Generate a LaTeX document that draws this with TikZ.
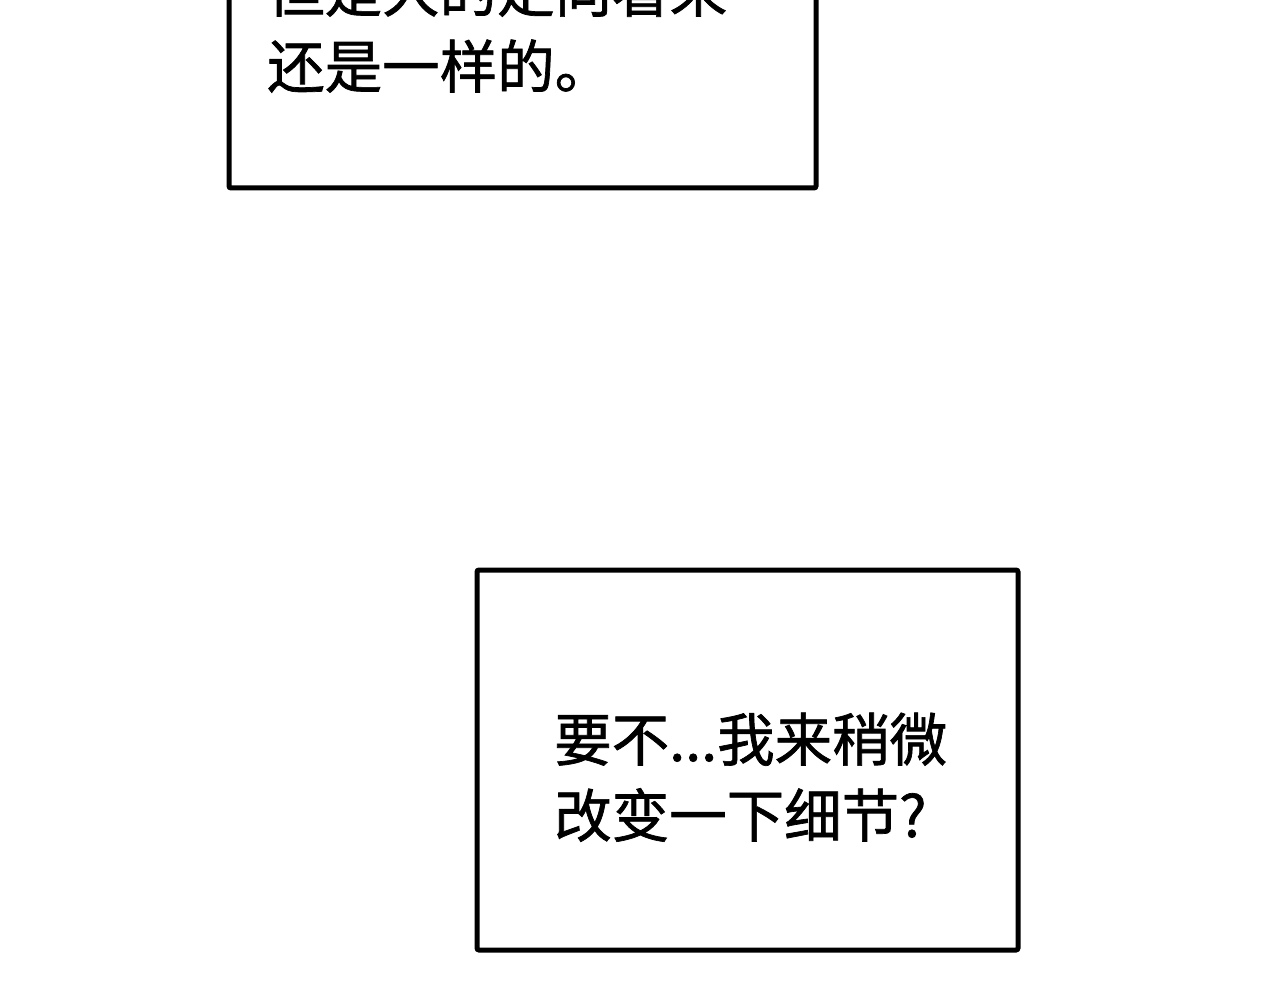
\documentclass[tikz,border=0pt]{standalone}
\usepackage{fontspec}
\newfontfamily\cjk[FakeBold=1.2]{Noto Sans CJK SC}
\begin{document}
\begin{tikzpicture}[x=1pt,y=-1pt,
  panel/.style={draw=black,line width=5pt,rounded corners=2pt,fill=white},
  say/.style={anchor=base west,inner sep=0pt,font=\cjk\fontsize{57.5}{57.5}\selectfont}]
\useasboundingbox (0,0) rectangle (1280,1000);
\fill[white] (0,0) rectangle (1280,1000);
\clip (0,0) rectangle (1280,1000);
\draw[panel] (229,-30) rectangle (816,188);
\node[say] (t1) at (267,12) {但是大的走向看来};
\node[say] (t2) at (267,88) {还是一样的。};
\draw[panel] (477,570) rectangle (1018,950);
\node[say] (b1) at (554,761) {要不...我来稍微};
\node[say] (b2) at (554,837) {改变一下细节?};
\end{tikzpicture}
\end{document}
